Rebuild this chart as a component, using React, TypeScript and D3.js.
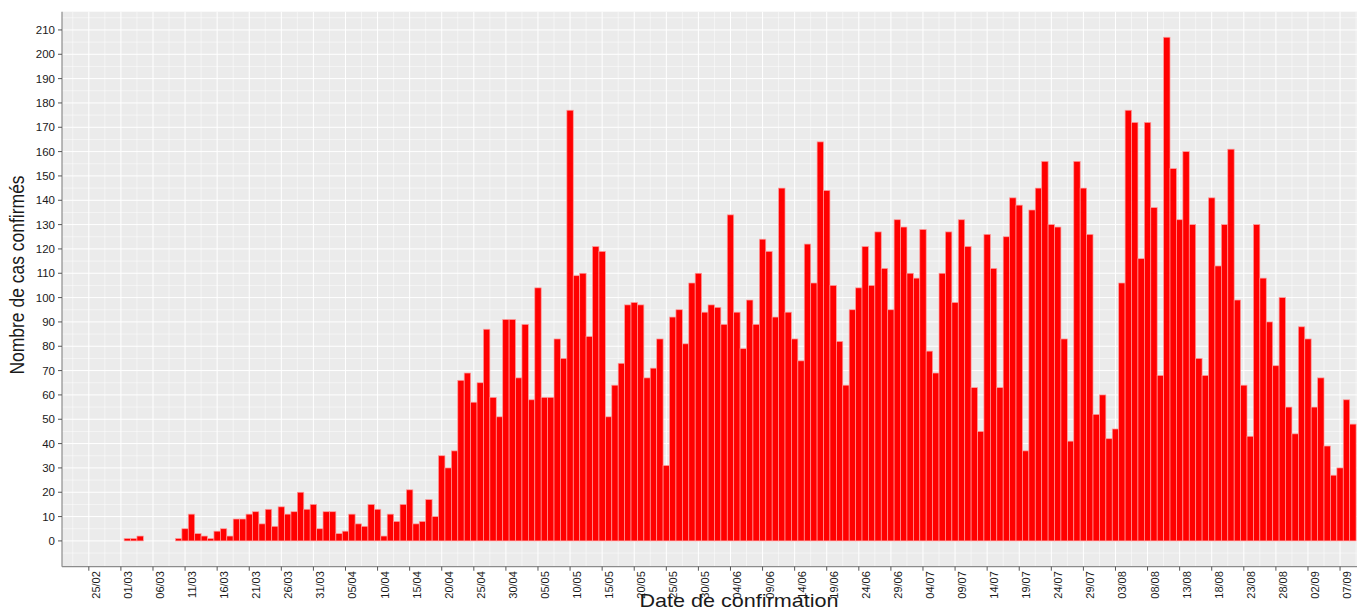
import * as d3 from 'd3';

// daily confirmed cases, one array per month (starts 25/02)
const fevrier = [0, 0, 0, 0, 0];
const mars = [0, 1, 1, 2, 0, 0, 0, 0, 0, 1, 5, 11, 3, 2, 1, 4, 5, 2, 9, 9, 11, 12, 7, 13, 6, 14, 11, 12, 20, 13, 15];
const avril = [5, 12, 12, 3, 4, 11, 7, 6, 15, 13, 2, 11, 8, 15, 21, 7, 8, 17, 10, 35, 30, 37, 66, 69, 57, 65, 87, 59, 51, 91];
const mai = [91, 67, 89, 58, 104, 59, 59, 83, 75, 177, 109, 110, 84, 121, 119, 51, 64, 73, 97, 98, 97, 67, 71, 83, 31, 92, 95, 81, 106, 110, 94];
const juin = [97, 96, 89, 134, 94, 79, 99, 89, 124, 119, 92, 145, 94, 83, 74, 122, 106, 164, 144, 105, 82, 64, 95, 104, 121, 105, 127, 112, 95, 132];
const juillet = [129, 110, 108, 128, 78, 69, 110, 127, 98, 132, 121, 63, 45, 126, 112, 63, 125, 141, 138, 37, 136, 145, 156, 130, 129, 83, 41, 156, 145, 126, 52];
const aout = [60, 42, 46, 106, 177, 172, 116, 172, 137, 68, 207, 153, 132, 160, 130, 75, 68, 141, 113, 130, 161, 99, 64, 43, 130, 108, 90, 72, 100, 55, 44];
const septembre = [88, 83, 55, 67, 39, 27, 30, 58, 48];

// one label every 5 days, first one on day 0
const tickLabels = [
  '25/02', '01/03', '06/03', '11/03', '16/03', '21/03', '26/03', '31/03', '05/04', '10/04',
  '15/04', '20/04', '25/04', '30/04', '05/05', '10/05', '15/05', '20/05', '25/05', '30/05',
  '04/06', '09/06', '14/06', '19/06', '24/06', '29/06', '04/07', '09/07', '14/07', '19/07',
  '24/07', '29/07', '03/08', '08/08', '13/08', '18/08', '23/08', '28/08', '02/09', '07/09',
];
const yTicks = d3.range(0, 211, 10);

const W = 1357;
const H = 610;
const panel = { left: 62, right: 1357, top: 11.7, bottom: 566.7 };

export default function App() {
  const cases = [...fevrier, ...mars, ...avril, ...mai, ...juin, ...juillet, ...aout, ...septembre];
  const data = cases.map((v, i) => ({ day: i, value: v }));

  const x = d3.scaleLinear().domain([-4.18, 197.64]).range([panel.left, panel.right]);
  const y = d3.scaleLinear().domain([-10.6, 217.5]).range([panel.bottom, panel.top]);
  const step = x(1) - x(0);

  const majorX = tickLabels.map((_, i) => i * 5);
  const minorX = d3.range(-2.5, 198, 5);
  const minorY = d3.range(-5, 216, 10);

  const font = '"Liberation Sans", Arial, sans-serif';

  return (
    <svg width={W} height={H} style={{ position: 'absolute', left: 0, top: 0, background: '#fff' }}>
      <rect x={panel.left} y={panel.top} width={panel.right - panel.left} height={panel.bottom - panel.top} fill="#EBEBEB" />
      {/* grid */}
      <g stroke="#fff">
        {minorY.map((v) => (
          <line key={'my' + v} x1={panel.left} x2={panel.right} y1={y(v)} y2={y(v)} strokeWidth={0.5} />
        ))}
        {minorX.map((d) => (
          <line key={'mx' + d} x1={x(d)} x2={x(d)} y1={panel.top} y2={panel.bottom} strokeWidth={0.5} />
        ))}
        {yTicks.map((v) => (
          <line key={'y' + v} x1={panel.left} x2={panel.right} y1={y(v)} y2={y(v)} strokeWidth={1} />
        ))}
        {majorX.map((d) => (
          <line key={'x' + d} x1={x(d)} x2={x(d)} y1={panel.top} y2={panel.bottom} strokeWidth={1} />
        ))}
      </g>
      {/* bars */}
      <g>
        {data
          .filter((d) => d.value > 0)
          .map((d) => (
            <rect
              key={d.day}
              x={x(d.day) - step / 2}
              y={y(d.value)}
              width={step}
              height={y(0) - y(d.value)}
              fill="#FF0000"
              stroke="#FF9C9C"
              strokeWidth={0.7}
            />
          ))}
      </g>
      {/* axes */}
      <line x1={panel.left} x2={panel.left} y1={panel.top} y2={panel.bottom} stroke="#8c8c8c" strokeWidth={1.2} />
      <line x1={panel.left} x2={panel.right} y1={panel.bottom} y2={panel.bottom} stroke="#8c8c8c" strokeWidth={1.2} />
      <g fontFamily={font} fill="#1a1a1a">
        {yTicks.map((v) => (
          <g key={'yt' + v}>
            <line x1={panel.left - 4} x2={panel.left} y1={y(v)} y2={y(v)} stroke="#555" />
            <text x={panel.left - 7} y={y(v)} textAnchor="end" dominantBaseline="central" fontSize={11.5}>
              {v}
            </text>
          </g>
        ))}
        {majorX.map((d, i) => (
          <g key={'xt' + d}>
            <line x1={x(d)} x2={x(d)} y1={panel.bottom} y2={panel.bottom + 4} stroke="#555" />
            <text transform={`translate(${x(d) + 11},${panel.bottom + 4.5}) rotate(-90)`} textAnchor="end" fontSize={11}>
              {tickLabels[i]}
            </text>
          </g>
        ))}
      </g>
      <text
        transform={`translate(${(panel.left + 1416) / 2},${H - 3}) scale(1.2,1)`}
        textAnchor="middle"
        fontFamily={font}
        fontSize={18}
        fill="#1a1a1a"
      >
        Date de confirmation
      </text>
      <text
        transform={`translate(24,275) rotate(-90) scale(1,1.2)`}
        textAnchor="middle"
        fontFamily={font}
        fontSize={17.5}
        fill="#1a1a1a"
      >
        Nombre de cas confirmés
      </text>
    </svg>
  );
}
